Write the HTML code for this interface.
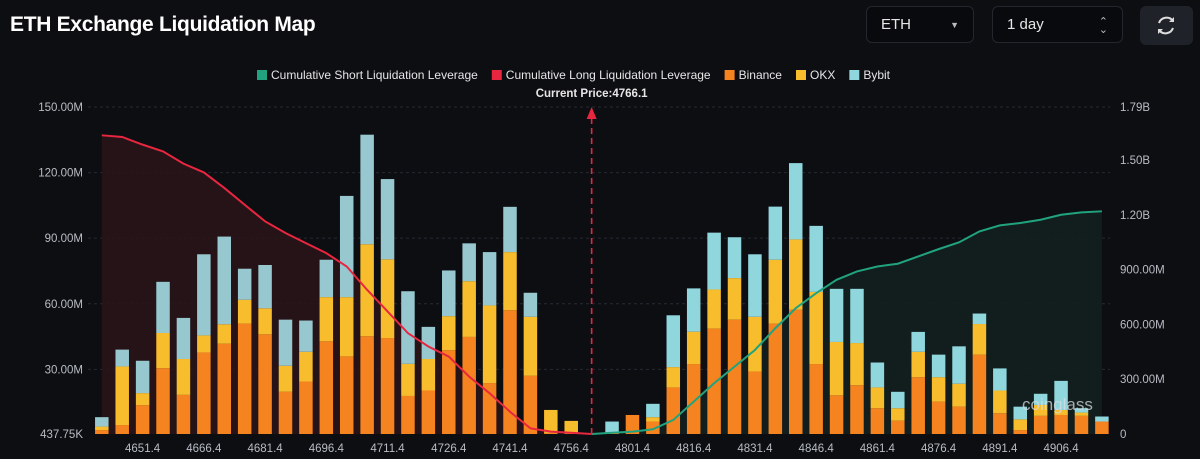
<!DOCTYPE html>
<html><head><meta charset="utf-8">
<style>
html,body{margin:0;padding:0;background:#0d0e12;width:1200px;height:459px;overflow:hidden;font-family:"Liberation Sans",sans-serif;}
.title{position:absolute;left:10px;top:13px;color:#fff;font-weight:bold;font-size:21px;letter-spacing:-0.3px}
.sel{position:absolute;top:6px;height:37px;border:1px solid #23262d;border-radius:6px;background:#090a0d;color:#e6e6e6;font-size:15px;box-sizing:border-box;line-height:36px;padding-left:14px}
.btn{position:absolute;left:1140px;top:6px;width:53px;height:39px;background:#1f2228;border-radius:6px}
</style></head><body>
<div class="title">ETH Exchange Liquidation Map</div>
<div class="sel" style="left:866px;width:108px">ETH<span style="position:absolute;right:14px;top:0;font-size:9px;color:#bbb">▼</span></div>
<div class="sel" style="left:992px;width:131px">1 day<span style="position:absolute;right:14px;top:-1px;font-size:11px;color:#bbb;line-height:8px;padding-top:12px">⌃<br>⌄</span></div>
<div class="btn"><svg width="53" height="39" viewBox="0 0 53 39"><path d="M19 17 A8 8 0 0 1 33 15" stroke="#ddd" stroke-width="2" fill="none"/><path d="M33 22 A8 8 0 0 1 19 24" stroke="#ddd" stroke-width="2" fill="none"/><path d="M34 11 L34 16 L29 16Z" fill="#ddd"/><path d="M18 28 L18 23 L23 23Z" fill="#ddd"/></svg></div>
<svg id="chart" width="1200" height="459" style="position:absolute;left:0;top:0"></svg>
<script>
const categories=["4641.4","4646.4","4651.4","4656.4","4661.4","4666.4","4671.4","4676.4","4681.4","4686.4","4691.4","4696.4","4701.4","4706.4","4711.4","4716.4","4721.4","4726.4","4731.4","4736.4","4741.4","4746.4","4751.4","4756.4","","4796.4","4801.4","4806.4","4811.4","4816.4","4821.4","4826.4","4831.4","4836.4","4841.4","4846.4","4851.4","4856.4","4861.4","4866.4","4871.4","4876.4","4881.4","4886.4","4891.4","4896.4","4901.4","4906.4","4911.4","4916.4"];
const binance=[1.8,4.1,13.2,30.1,17.9,37.3,41.3,50.5,45.6,19.3,24.0,42.4,35.5,44.7,43.9,17.4,19.9,38.3,44.4,23.3,56.6,26.6,0.5,0.3,0,0.3,8.7,5.7,21.3,32.0,48.2,52.3,28.6,50.5,56.9,32.0,17.7,22.3,11.8,6.1,26.0,14.8,12.5,36.3,9.5,1.8,8.3,8.7,8.3,5.7];
const okx=[1.6,26.8,5.5,16.1,16.4,7.8,8.9,10.9,11.9,11.9,13.6,20.2,27.1,42.1,36.0,14.7,14.4,15.6,25.5,35.5,26.6,27.0,10.5,5.7,0,0.3,0,2.0,9.3,14.8,17.9,19.0,25.0,29.2,32.1,33.0,24.4,19.3,9.5,5.7,11.6,11.2,10.5,14.0,10.4,4.9,5.0,2.3,1.5,0];
const bybit=[4.3,7.7,14.8,23.4,18.8,37.1,40.1,14.2,19.8,21.1,14.3,17.1,46.3,50.1,36.7,33.2,14.7,20.9,17.3,24.4,20.7,11.0,0,0,0,5.1,0,6.1,23.7,19.8,26.0,18.7,28.6,24.3,34.9,30.2,24.3,24.8,11.4,7.5,9.1,10.3,17.1,4.8,10.1,5.8,5.1,13.3,2.0,2.3];
const longCum=[1.635,1.626,1.584,1.547,1.48,1.432,1.347,1.255,1.164,1.1,1.045,0.99,0.917,0.789,0.671,0.552,0.479,0.424,0.314,0.223,0.122,0.031,0.013,0.007,0];
const shortCum=[0,0.007,0.013,0.026,0.077,0.177,0.278,0.369,0.46,0.579,0.689,0.771,0.844,0.89,0.917,0.932,0.972,1.012,1.049,1.109,1.142,1.155,1.173,1.2,1.213,1.219];
const leftTicks=[0.43775,30,60,90,120,150];
const leftTickLabels=["437.75K","30.00M","60.00M","90.00M","120.00M","150.00M"];
const rightTicks=[0,0.3,0.6,0.9,1.2,1.5,1.79];
const rightTickLabels=["0","300.00M","600.00M","900.00M","1.20B","1.50B","1.79B"];
const currentPrice="4766.1";

const NS="http://www.w3.org/2000/svg";
const svg=document.getElementById('chart');
const X0=101.8,PITCH=20.41,BASE=434,TOP=107,PL=88,PR=1110;
const x=i=>X0+i*PITCH;
const yL=v=>BASE-(v-0.43775)/(150-0.43775)*(BASE-TOP);
const yR=v=>BASE-v/1.79*(BASE-TOP);
function mk(t,a,p){const e=document.createElementNS(NS,t);for(const k in a)e.setAttribute(k,a[k]);(p||svg).appendChild(e);return e;}
// grid
leftTicks.forEach((v,i)=>{const y=yL(v);
 if(i>0){const g=mk('line',{x1:PL,x2:PR,y1:y,y2:y,stroke:'#262a31','stroke-dasharray':'3,3'});
 
 }
 const t=mk('text',{x:83,y:y+4,'text-anchor':'end',fill:'#b8bcc4','font-size':'11.5'});t.textContent=leftTickLabels[i];
 
 });
rightTicks.forEach((v,i)=>{const y=yR(v);
 const t=mk('text',{x:1120,y:y+4,fill:'#b8bcc4','font-size':'11.5'});t.textContent=rightTickLabels[i];
 
 });
// fills
let dL='M'+x(0)+','+BASE;longCum.forEach((v,i)=>dL+=' L'+x(i)+','+yR(v));dL+=' L'+x(longCum.length-1)+','+BASE+'Z';
const fl=mk('path',{d:dL,fill:'#2a1419',opacity:0.85});


let dS='M'+x(24)+','+BASE;shortCum.forEach((v,i)=>dS+=' L'+x(24+i)+','+yR(v));dS+=' L'+x(49)+','+BASE+'Z';
const fs=mk('path',{d:dS,fill:'#12201f',opacity:0.9});


// bars
const W=13.5;
categories.forEach((c,i)=>{
 const b=binance[i],o=okx[i],y=bybit[i];
 const segs=[[0,b,'#f5831f'],[b,b+o,'#f8bd2c'],[b+o,b+o+y,i<24?'#97c8d0':'#8fd6dd']];
 segs.forEach((s,k)=>{if(s[1]-s[0]<=0)return;
  const r=mk('rect',{x:x(i)-W/2,y:yL(s[1]+0.43775),width:W,height:Math.max(0,yL(s[0]+0.43775)-yL(s[1]+0.43775)),fill:s[2]});
  
  });
 if(c&&(i<24?(i-2)%3===0:(i-26)%3===0)){const t=mk('text',{x:x(i),y:452,'text-anchor':'middle',fill:'#b8bcc4','font-size':'11.5'});t.textContent=c;
  
  }
});
// lines
let pL='';longCum.forEach((v,i)=>pL+=(i?' L':'M')+x(i)+','+yR(v));
const ll=mk('path',{d:pL,fill:'none',stroke:'#e8263f','stroke-width':2});


let pS='';shortCum.forEach((v,i)=>pS+=(i?' L':'M')+x(24+i)+','+yR(v));
const sl=mk('path',{d:pS,fill:'none',stroke:'#21a37f','stroke-width':2});


// current price
const cx=x(24);
const cl=mk('line',{x1:cx,x2:cx,y1:BASE,y2:114,stroke:'#e8263f','stroke-width':1.6,'stroke-dasharray':'6,4'});


const ca=mk('path',{d:`M${cx-5},119 L${cx},107 L${cx+5},119Z`,fill:'#e8263f'});


const ct=mk('text',{x:cx,y:97,'text-anchor':'middle',fill:'#e6e6e6','font-size':'11.5','font-weight':'bold'});ct.textContent='Current Price:'+currentPrice;


// legend
const leg=[['Cumulative Short Liquidation Leverage','#21a37f'],['Cumulative Long Liquidation Leverage','#e8263f'],['Binance','#f5831f'],['OKX','#f8bd2c'],['Bybit','#8fd6dd']];
let lx=257;
leg.forEach(l=>{const g=mk('g',{});
 
 
 mk('rect',{x:lx,y:70,width:10,height:10,fill:l[1]},g);
 const t=mk('text',{x:lx+14,y:79,fill:'#e6e6e6','font-size':'12'},g);t.textContent=l[0];
 lx+=14+t.getComputedTextLength()+14;});
// watermark
const wm=mk('text',{x:1022,y:410,fill:'#d8dde0','font-size':'17',opacity:0.75});wm.textContent='coinglass';


</script>
</body></html>
